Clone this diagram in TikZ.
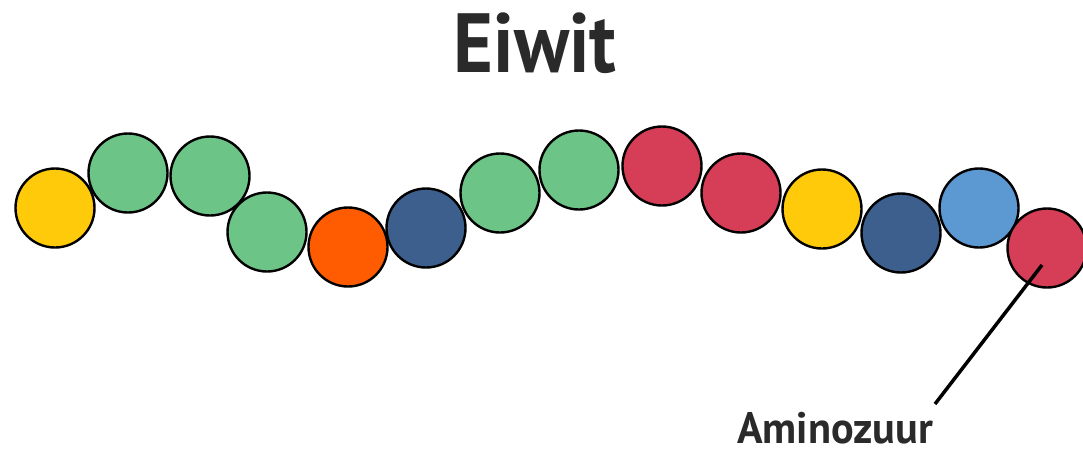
\documentclass[tikz,border=0pt]{standalone}
\usepackage{fontspec}
\setmainfont{PT Sans}
\newfontfamily\titlefont[FakeStretch=0.91]{PT Sans Bold}
\newfontfamily\labelfont[FakeStretch=0.96]{PT Sans Bold}
\definecolor{cYellow}{HTML}{FFCA0A}
\definecolor{cGreen}{HTML}{6CC487}
\definecolor{cOrange}{HTML}{FF5B00}
\definecolor{cDark}{HTML}{3D5F8D}
\definecolor{cRed}{HTML}{D63D56}
\definecolor{cLight}{HTML}{5C98D2}
\definecolor{cText}{HTML}{2A2A2A}
\begin{document}
\begin{tikzpicture}[x=1pt,y=-1pt,
  amino/.style={circle,draw=black,line width=2.4pt,minimum size=79pt,inner sep=0pt,fill=#1},
  pointer/.style={line width=3.5pt,draw=black}]
\useasboundingbox (0,0) rectangle (1083,450);
\clip (0,0) rectangle (1083,450);
\node[anchor=base,text=cText,font=\titlefont\fontsize{84}{84}\selectfont] (title) at (535,72) {Eiwit};
\node[amino=cYellow] (a1) at (55,208) {};
\node[amino=cGreen] (a2) at (128,173) {};
\node[amino=cGreen] (a3) at (210,176) {};
\node[amino=cGreen] (a4) at (267,232) {};
\node[amino=cOrange] (a5) at (348,247) {};
\node[amino=cDark] (a6) at (426,228) {};
\node[amino=cGreen] (a7) at (500,193) {};
\node[amino=cGreen] (a8) at (579,170) {};
\node[amino=cRed] (a9) at (662,166) {};
\node[amino=cRed] (a10) at (741,193) {};
\node[amino=cYellow] (a11) at (822,209) {};
\node[amino=cDark] (a12) at (901,233) {};
\node[amino=cLight] (a13) at (979,208) {};
\node[amino=cRed] (a14) at (1047,248) {};
\coordinate (ptrStart) at (1042,265);
\coordinate (ptrEnd) at (935,404);
\draw[pointer] (ptrStart) -- (ptrEnd);
\node[anchor=base west,inner sep=0pt,text=cText,font=\labelfont\fontsize{44}{44}\selectfont] (label) at (737,443) {Aminozuur};
\end{tikzpicture}
\end{document}
